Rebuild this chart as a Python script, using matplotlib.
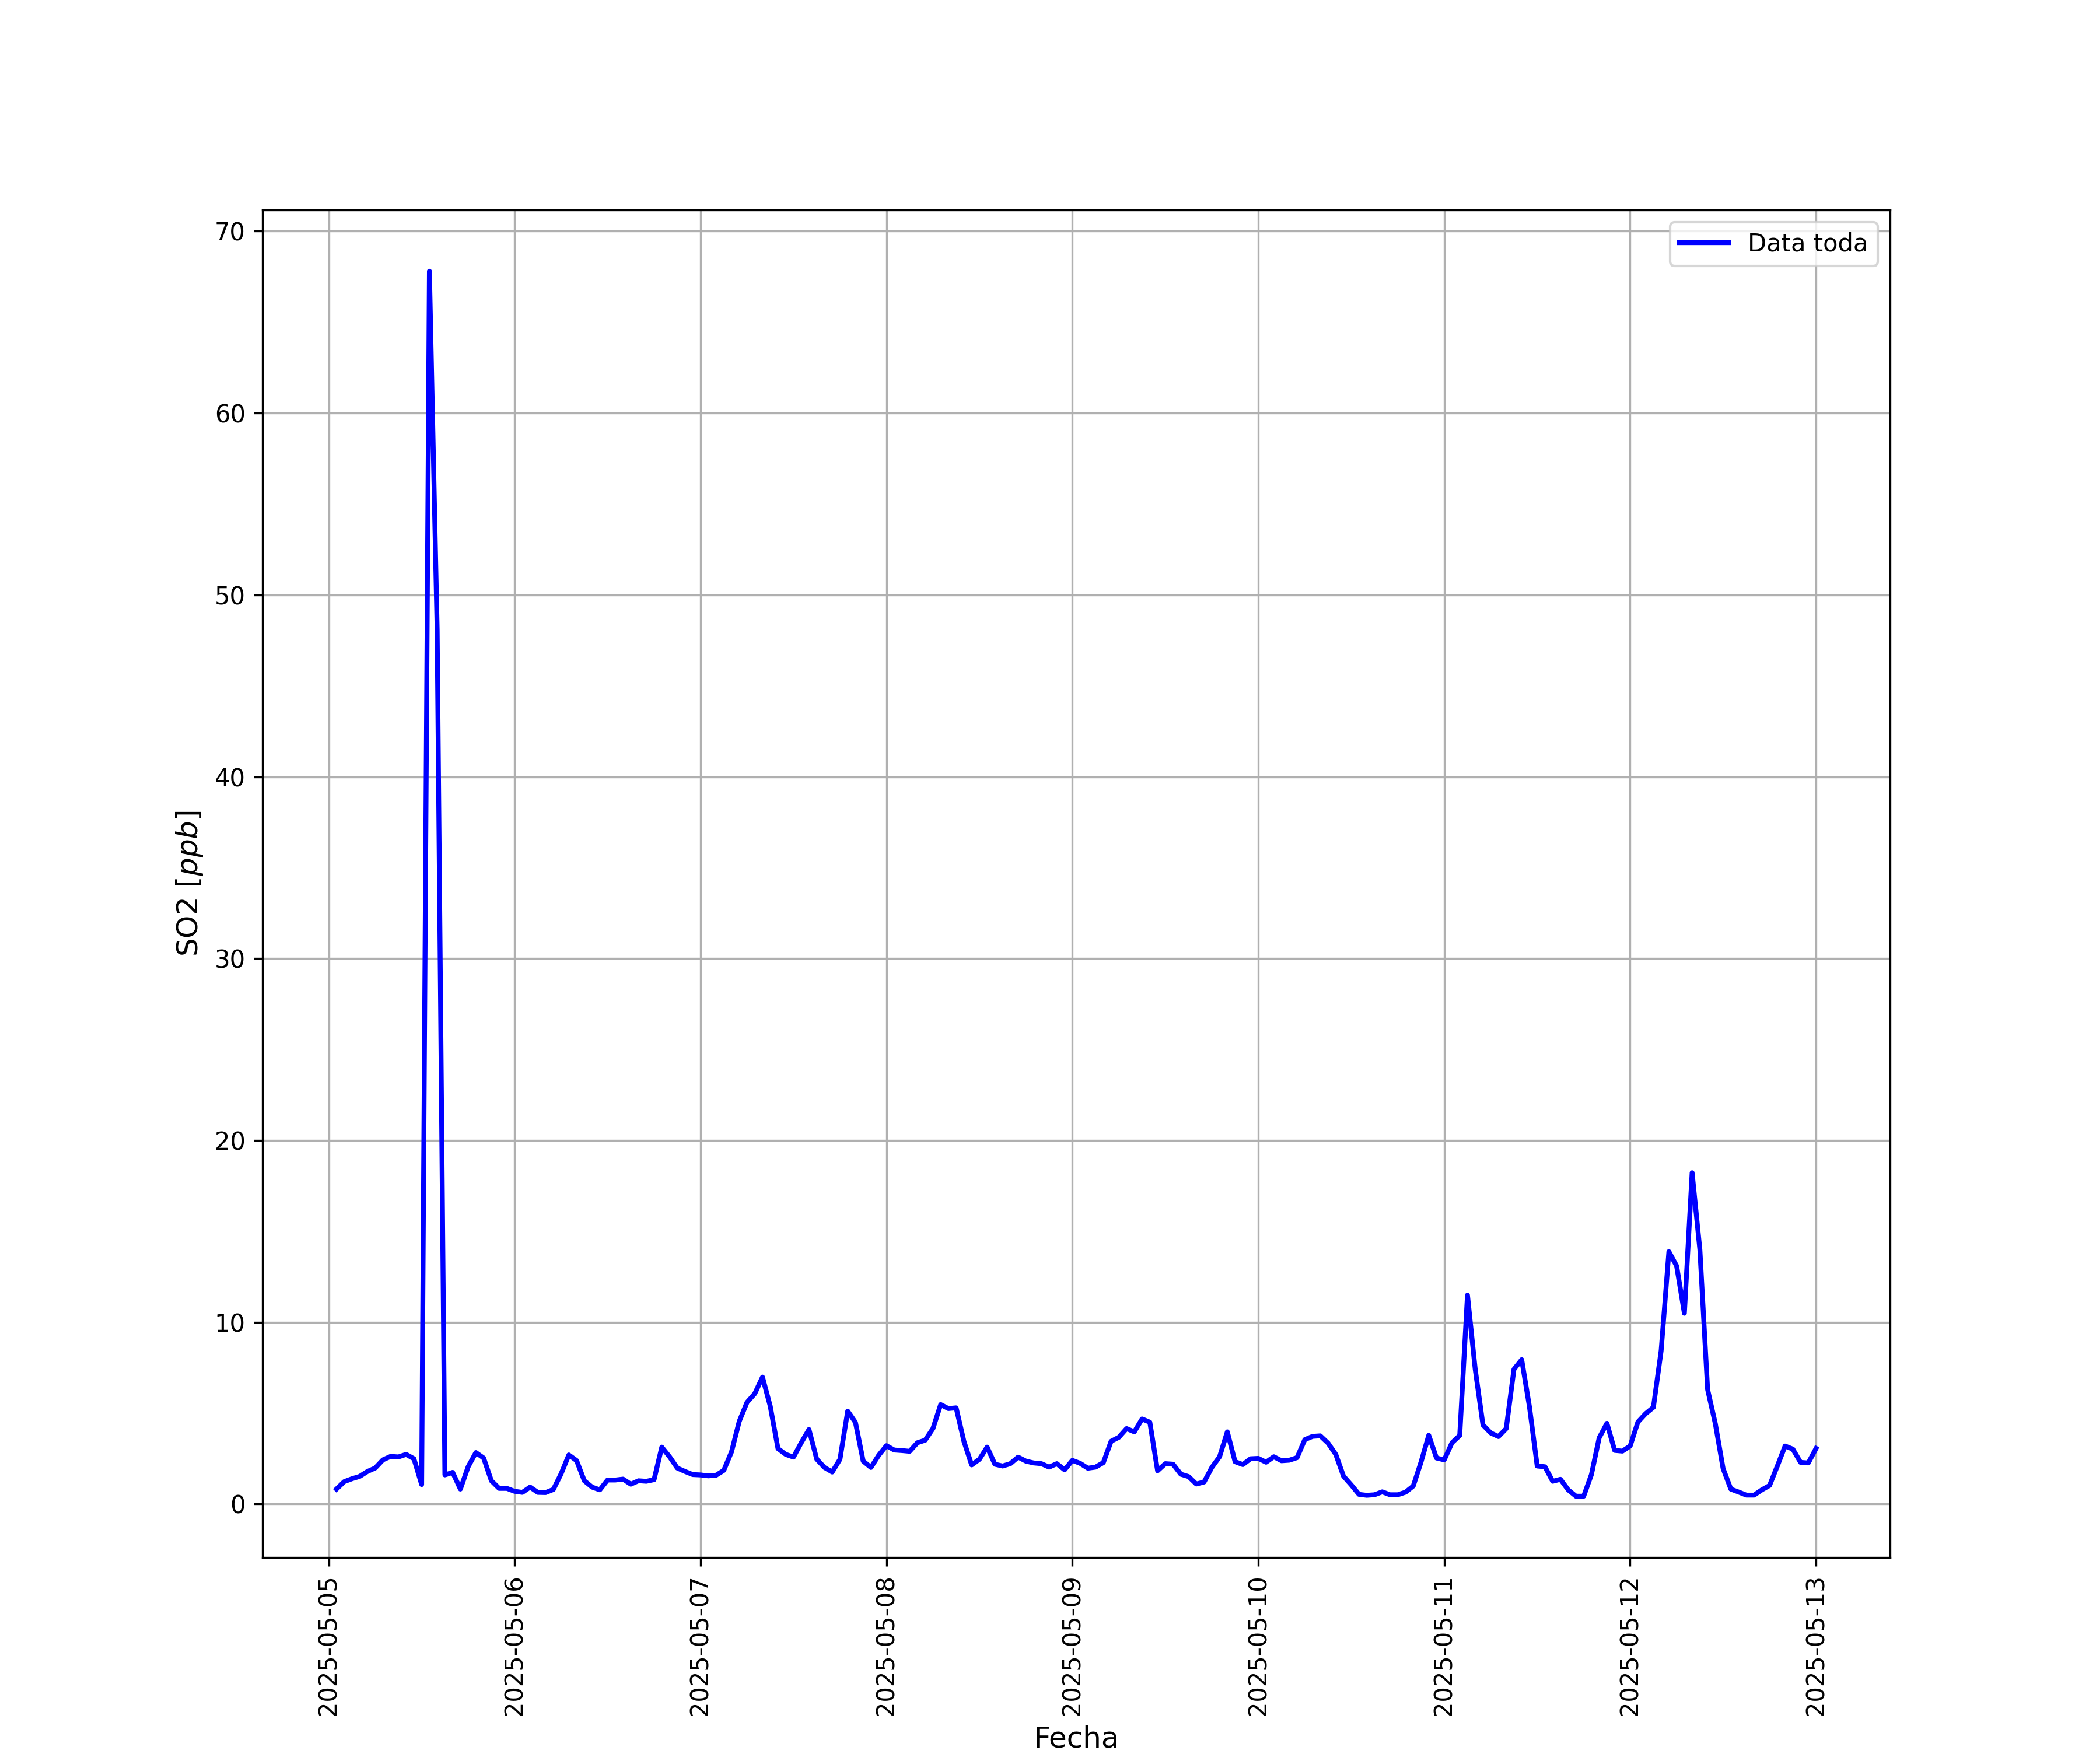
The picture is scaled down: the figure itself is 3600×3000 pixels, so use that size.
import matplotlib
matplotlib.use("Agg")
import matplotlib.pyplot as plt
import numpy as np
import pandas as pd

# hourly SO2 readings, 2025-05-05 01:00 -> 2025-05-13 00:00
start = "2025-05-05 01:00"
so2 = [
    0.82, 1.23, 1.39, 1.52, 1.79, 1.98, 2.43, 2.62, 2.59, 2.73, 2.49, 1.07,
    67.8, 48.1, 1.60, 1.74, 0.82, 2.05, 2.83, 2.53, 1.28, 0.86, 0.86, 0.70,
    0.64, 0.93, 0.64, 0.63, 0.80, 1.66, 2.70, 2.39, 1.28, 0.93, 0.78, 1.32,
    1.32, 1.37, 1.09, 1.28, 1.25, 1.34, 3.13, 2.60, 1.98, 1.79, 1.62, 1.60,
    1.55, 1.58, 1.85, 2.87, 4.55, 5.59, 6.07, 6.98, 5.38, 3.05, 2.73, 2.58,
    3.37, 4.10, 2.47, 2.01, 1.76, 2.46, 5.11, 4.49, 2.36, 2.01, 2.68, 3.21,
    2.97, 2.94, 2.90, 3.37, 3.51, 4.15, 5.47, 5.25, 5.29, 3.45, 2.15, 2.46,
    3.13, 2.19, 2.09, 2.22, 2.58, 2.36, 2.26, 2.22, 2.03, 2.22, 1.88, 2.40,
    2.24, 1.97, 2.03, 2.28, 3.45, 3.67, 4.15, 3.97, 4.68, 4.50, 1.83, 2.22,
    2.19, 1.64, 1.51, 1.10, 1.21, 2.01, 2.60, 3.97, 2.33, 2.17, 2.49, 2.51,
    2.30, 2.60, 2.38, 2.41, 2.55, 3.54, 3.72, 3.75, 3.35, 2.73, 1.53, 1.05,
    0.53, 0.48, 0.51, 0.67, 0.51, 0.51, 0.65, 0.99, 2.30, 3.78, 2.53, 2.43,
    3.37, 3.77, 11.49, 7.41, 4.35, 3.91, 3.71, 4.15, 7.41, 7.94, 5.35, 2.09,
    2.05, 1.25, 1.36, 0.78, 0.43, 0.43, 1.62, 3.64, 4.44, 2.95, 2.91, 3.19,
    4.51, 4.97, 5.32, 8.43, 13.88, 13.09, 10.49, 18.22, 13.99, 6.30, 4.41, 1.95,
    0.82, 0.66, 0.49, 0.49, 0.78, 1.02, 2.09, 3.19, 3.02, 2.29, 2.26, 3.06,
]
fechas = pd.date_range(start, periods=len(so2), freq="h")

fig = plt.figure(figsize=(12, 10))
plt.plot(fechas, so2, color="blue", linewidth=2, label="Data toda")
plt.xlabel("Fecha", fontsize=12)
plt.ylabel("SO2 [$ppb$]", fontsize=12)
plt.xticks(rotation=90)
plt.grid(True)
plt.legend(loc="upper right")
plt.savefig("out.png", dpi=300)
